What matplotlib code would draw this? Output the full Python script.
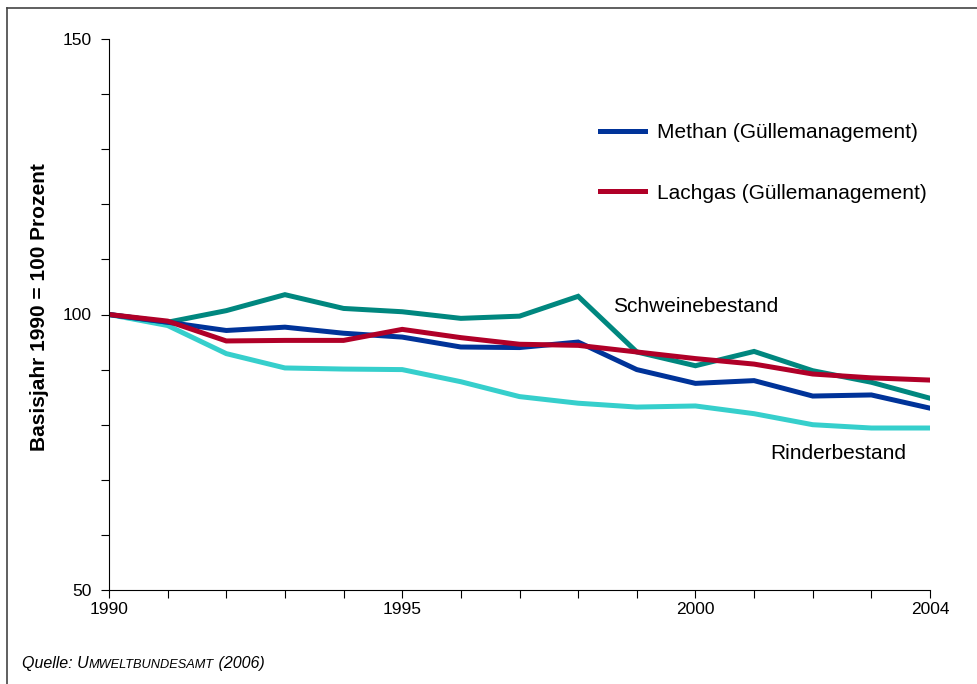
import numpy as np
import matplotlib
matplotlib.use('Agg')
import matplotlib.pyplot as plt
from matplotlib.lines import Line2D

plt.rcParams['font.family'] = ['Liberation Sans', 'DejaVu Sans']

years = list(range(1990, 2005))

# index values, 1990 = 100
methan = [100, 98.6, 97.1, 97.7, 96.6, 95.9, 94.1, 94.0, 95.0, 90.0, 87.5, 88.0, 85.2, 85.4, 83.0]
lachgas = [100, 98.8, 95.2, 95.3, 95.3, 97.3, 95.8, 94.6, 94.4, 93.2, 92.0, 91.0, 89.2, 88.5, 88.1]
schweine = [100, 98.6, 100.7, 103.6, 101.1, 100.5, 99.3, 99.7, 103.3, 93.2, 90.7, 93.3, 89.8, 87.7, 84.8]
rinder = [100, 98.0, 92.9, 90.3, 90.1, 90.0, 87.8, 85.1, 83.9, 83.2, 83.4, 82.0, 80.0, 79.4, 79.4]

c_methan = '#003399'
c_lachgas = '#B00028'
c_schwein = '#00877F'
c_rind = '#36CFCC'

fig = plt.figure(figsize=(9.78, 6.84), dpi=100)
ax = fig.add_axes([109/978, 1-590/684, (930-109)/978, (590-39)/684])

lw = 3.6
ax.plot(years, rinder, color=c_rind, lw=lw, solid_joinstyle='miter')
ax.plot(years, schweine, color=c_schwein, lw=lw, solid_joinstyle='miter')
ax.plot(years, methan, color=c_methan, lw=lw, solid_joinstyle='miter')
ax.plot(years, lachgas, color=c_lachgas, lw=lw, solid_joinstyle='miter')

ax.set_xlim(1990, 2004)
ax.set_ylim(50, 150)
ax.set_xticks(years)
ax.set_xticklabels([str(y) if y in (1990, 1995, 2000, 2004) else '' for y in years])
ax.set_yticks(range(50, 151, 10))
ax.set_yticklabels([str(v) if v in (50, 100, 150) else '' for v in range(50, 151, 10)])
ax.tick_params(direction='out', length=6, width=0.8, labelsize=12.5, colors='black')
ax.tick_params(axis='x', pad=3)
ax.tick_params(axis='y', pad=6.5)
ax.spines['top'].set_visible(False)
ax.spines['right'].set_visible(False)
ax.set_ylabel('Basisjahr 1990 = 100 Prozent', fontsize=15, fontweight='bold', va='center')
ax.yaxis.set_label_coords((40-109)/821, 1-(307-39)/551)

ax.text(1998.59, 101.5, 'Schweinebestand', fontsize=15, va='center', ha='left')
ax.text(2001.27, 74.8, 'Rinderbestand', fontsize=15, va='center', ha='left')

handles = [Line2D([], [], color=c_methan, lw=lw), Line2D([], [], color=c_lachgas, lw=lw)]
ax.legend(handles, ['Methan (Güllemanagement)', 'Lachgas (Güllemanagement)'],
          frameon=False, fontsize=15, handlelength=2.15, handletextpad=0.6,
          labelspacing=2.0, loc='upper left', borderaxespad=0, borderpad=0,
          bbox_to_anchor=((600-109)/821, 1-(123-39)/551))

# figure frame (left and top only)
fig.add_artist(Line2D([7/978, 7/978], [0, 1-8/684], color='#444444', lw=1.2, transform=fig.transFigure))
fig.add_artist(Line2D([7/978, 1], [1-8/684, 1-8/684], color='#444444', lw=1.2, transform=fig.transFigure))

# source line with small caps
t1 = fig.text(22/978, 1-671/684, 'Quelle: U', fontsize=11.5, style='italic', va='bottom')
t2 = plt.annotate('MWELTBUNDESAMT', xy=(1, 0), xycoords=t1, fontsize=9.2, style='italic', va='bottom')
plt.annotate(' (2006)', xy=(1, 0), xycoords=t2, fontsize=11.5, style='italic', va='bottom')

fig.savefig('out.png', dpi=100)
